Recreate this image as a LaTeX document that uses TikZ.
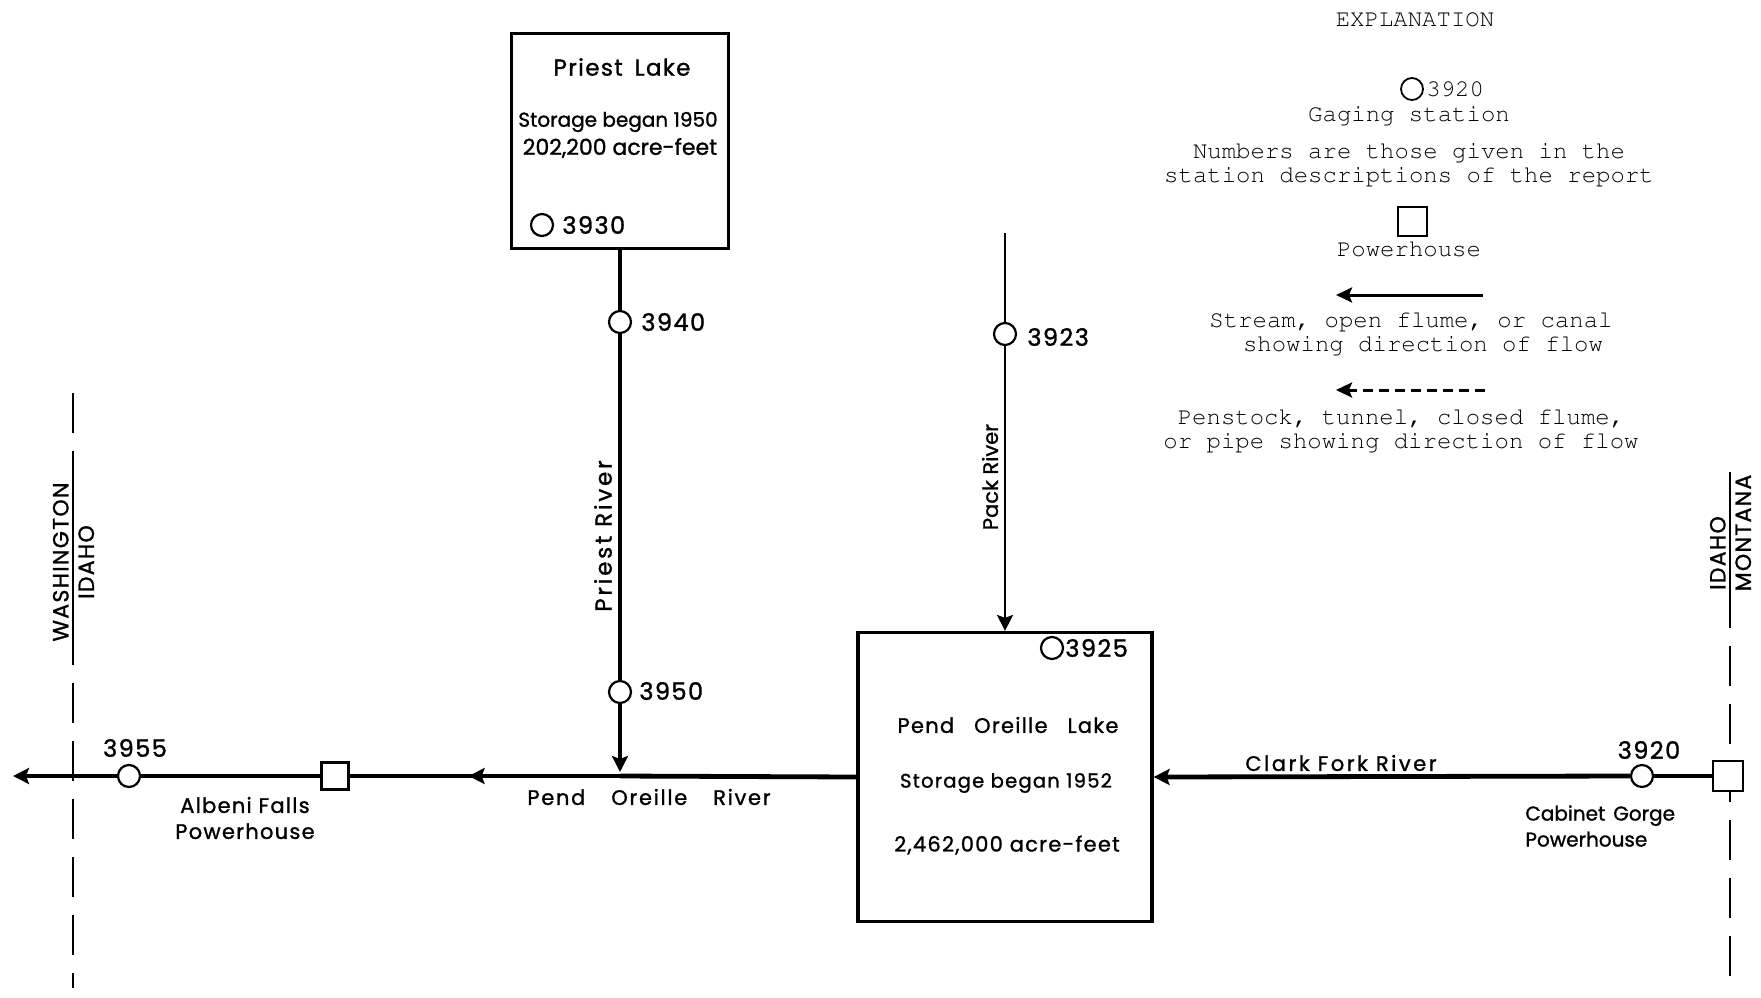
\documentclass[tikz,border=0pt]{standalone}
\usepackage[T1]{fontenc}
\usepackage{fontspec}
\newfontfamily\leroy[LetterSpace=6, FakeBold=1.2]{Poppins}
\newfontfamily\leroyc[FakeBold=1.2]{Poppins}
\usetikzlibrary{arrows.meta,decorations.markings}
\newcommand{\cour}{\fontencoding{T1}\fontfamily{pcr}\fontsize{12}{12}\selectfont}
\begin{document}
\begin{tikzpicture}[x=0.5pt,y=-0.5pt,
  lbl/.style={font=\leroy\fontsize{10.5}{12}\selectfont, inner sep=0pt},
  num/.style={font=\leroy\fontsize{12}{13}\selectfont, inner sep=0pt},
  mono/.style={font=\cour, inner sep=0pt, align=center},
  gs/.style={circle, draw, fill=white, line width=1.1pt, inner sep=0pt, minimum size=11pt},
  phouse/.style={rectangle, draw, fill=white, line width=1.2pt, inner sep=0pt, minimum size=13.5pt},
  lake/.style={rectangle, draw, line width=1.6pt, inner sep=0pt},
  river/.style={line width=2.4pt},
  trib/.style={line width=1.8pt},
  thintrib/.style={line width=1.2pt},
  border/.style={line width=1.3pt, dash pattern=on 20pt off 9pt},
  tip/.style={-{Stealth[length=8pt,width=8pt,inset=1.5pt]}},
  midarrow/.style={postaction={decorate}, decoration={markings, mark=at position 0.56 with {\arrow{Stealth[length=8pt,width=8pt,inset=1.5pt]}}}}
]
\useasboundingbox (0,0) rectangle (1761,997);

% ---------- state borders (drawn first, under the powerhouse) ----------
\coordinate (wa1) at (73,393);
\coordinate (wa2) at (73,988);
\draw[border] (wa1) -- (wa2);
\draw[line width=1.3pt] (73,488) -- (73,640);
\coordinate (mt1) at (1730,472);
\coordinate (mt2) at (1730,988);
\draw[border] (mt1) -- (mt2);
\draw[line width=1.3pt] (1730,472) -- (1730,600);

% ---------- Priest Lake ----------
\node[lake, minimum width=108.5pt, minimum height=107.5pt] (priest) at (620,141) {};
\node[lbl, font=\leroy\fontsize{11.5}{13}\selectfont] (pname) at (622,67) {Priest\hspace{6pt}Lake};
\node[lbl, font=\leroyc\fontsize{10}{12}\selectfont] (pstor) at (618,122) {Storage began 1950};
\node[lbl, font=\leroyc\fontsize{11}{12}\selectfont] (pvol) at (620,148) {202,200 acre-feet};
\node[gs] (g3930) at (542,225) {};
\node[num, anchor=west] (t3930) at (562,225) {3930};

% ---------- Pend Oreille Lake ----------
\node[lake, minimum width=147pt, minimum height=144.5pt] (pend) at (1005,777) {};
\node[gs] (g3925) at (1052,648) {};
\node[num, anchor=west] (t3925) at (1065,648) {3925};
\node[lbl] (pename) at (1008,725) {Pend\hspace{10pt}Oreille\hspace{10pt}Lake};
\node[lbl, font=\leroy\fontsize{9.8}{11}\selectfont] (pestor) at (1006,783) {Storage began 1952};
\node[lbl] (pevol) at (1007,845) {2,462,000 acre-feet};

% ---------- stations and powerhouses ----------
\node[gs] (g3940) at (620,322) {};
\node[num, anchor=west] (t3940) at (641,322) {3940};
\node[gs] (g3950) at (620,692) {};
\node[num, anchor=west] (t3950) at (639,691) {3950};
\node[gs] (g3923) at (1005,334) {};
\node[num, anchor=west] (t3923) at (1027,337) {3923};
\node[gs] (g3955) at (129,776) {};
\node[num] (t3955) at (135,748) {3955};
\node[gs] (g3920) at (1642,776) {};
\node[num] (t3920) at (1649,750) {3920};
\node[phouse] (ph1) at (335,776) {};
\node[phouse, minimum size=15pt] (ph2) at (1728,776) {};

\coordinate (junc) at (620,776);
\coordinate (wend) at (13,776);
\coordinate (packtop) at (1005,233);

% ---------- rivers ----------
\draw[river] (pend.west) -- (junc);
\draw[river, midarrow] (junc) -- (ph1.east);
\draw[river] (ph1.west) -- (g3955.east);
\draw[river, tip] (g3955.west) -- (wend);
\draw[trib] (priest.south) -- (g3940.north);
\draw[trib] (g3940.south) -- (g3950.north);
\draw[trib, tip, shorten >=2pt] (g3950.south) -- (junc);
\draw[thintrib] (packtop) -- (g3923.north);
\draw[thintrib, tip] (g3923.south) -- (pend.north);
\draw[river] (ph2.west) -- (g3920.east);
\draw[river, tip] (g3920.west) -- (pend.east);

% ---------- river labels ----------
\node[lbl, rotate=90, font=\leroy\fontsize{11.5}{12}\selectfont\addfontfeature{LetterSpace=12}] (lpriest) at (603,536) {Priest River};
\node[lbl, rotate=90, font=\leroyc\fontsize{10.5}{12}\selectfont] (lpack) at (990,477) {Pack River};
\node[lbl, font=\leroy\fontsize{10.5}{12}\selectfont\addfontfeature{LetterSpace=8}] (lpor) at (649,797) {Pend\hspace{13pt}Oreille\hspace{13pt}River};
\node[lbl, font=\leroy\fontsize{10.5}{12}\selectfont\addfontfeature{LetterSpace=12}] (lclark) at (1341,763) {Clark\hspace{4pt}Fork\hspace{4pt}River};
\node[lbl, align=center] (lalbeni) at (245,818) {Albeni Falls\\[1pt]Powerhouse};
\node[lbl, align=left, anchor=west, font=\leroyc\fontsize{10}{12}\selectfont] (lcab) at (1525,826) {Cabinet\hspace{4pt}Gorge\\[1pt]Powerhouse};

% ---------- border labels ----------
\node[lbl, rotate=90, anchor=south, font=\leroy\fontsize{11}{12}\selectfont] (lwash) at (69,562) {WASHINGTON};
\node[lbl, rotate=90, anchor=north, font=\leroy\fontsize{11}{12}\selectfont] (lidaho1) at (78,562) {IDAHO};
\node[lbl, rotate=90, anchor=south, font=\leroy\fontsize{11}{12}\selectfont] (lidaho2) at (1726,553) {IDAHO};
\node[lbl, rotate=90, anchor=north, font=\leroy\fontsize{11}{12}\selectfont] (lmont) at (1735,533) {MONTANA};

% ---------- explanation ----------
\node[mono] (expl) at (1415,20) {EXPLANATION};
\node[gs, line width=0.9pt] (lgs) at (1412,89) {};
\node[mono, anchor=west] (lgsnum) at (1426,89) {3920};
\node[mono] (lgstext) at (1409,116) {Gaging station};
\node[mono] (lnums) at (1409,165) {Numbers are those given in the\\station descriptions of the report};
\node[phouse, line width=1pt, minimum size=14.5pt] (lph) at (1412,221) {};
\node[mono] (lphtext) at (1409,249) {Powerhouse};
\coordinate (ls1) at (1483,295);
\coordinate (ls2) at (1336,295);
\draw[line width=1.5pt, -{Stealth[length=8pt,width=7.5pt,inset=1.5pt]}] (ls1) -- (ls2);
\node[mono] (lstream) at (1411,334) {Stream, open flume, or canal\\\hspace*{12pt}showing direction of flow};
\coordinate (ld1) at (1485,390);
\coordinate (ld2) at (1336,390);
\draw[line width=1.5pt, dash pattern=on 5pt off 3pt, -{Stealth[length=8pt,width=7.5pt,inset=1.5pt]}] (ld1) -- (ld2);
\node[mono] (lpen) at (1401,431) {Penstock, tunnel, closed flume,\\or pipe showing direction of flow};
\end{tikzpicture}
\end{document}
